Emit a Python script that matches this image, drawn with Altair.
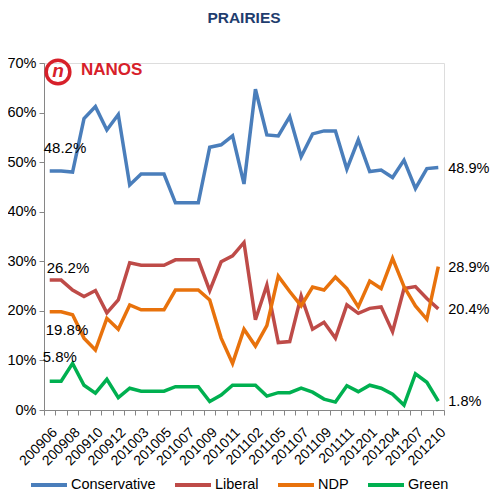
import altair as alt
import pandas as pd

months = ["200906", "200907", "200908", "200909", "200910", "200911", "200912", "201001",
          "201003", "201004", "201005", "201006", "201007", "201008", "201009", "201010",
          "201011", "201101", "201102", "201103", "201105", "201106", "201107", "201108",
          "201109", "201110", "201111", "201112", "201201", "201202", "201204", "201205",
          "201207", "201208", "201210"]
labeled_months = months[::2]

conservative = [48.2, 48.2, 48.0, 58.8, 61.2, 56.5, 59.6, 45.4, 47.6, 47.6, 47.6, 41.8, 41.8, 41.8,
                53.0, 53.5, 55.3, 45.6, 64.7, 55.5, 55.3, 59.2, 51.1, 55.7, 56.3, 56.3, 48.6, 54.5,
                48.1, 48.4, 46.9, 50.4, 44.7, 48.7, 48.9]
liberal = [26.2, 26.2, 24.2, 22.9, 24.1, 19.6, 22.2, 29.7, 29.2, 29.2, 29.2, 30.3, 30.3, 30.3,
           24.1, 29.9, 31.1, 33.8, 18.2, 25.2, 13.6, 13.8, 23.0, 16.3, 17.7, 14.5, 21.2, 19.5,
           20.5, 20.8, 15.8, 24.5, 24.9, 22.5, 20.4]
ndp = [19.8, 19.8, 19.2, 14.5, 12.1, 18.5, 16.3, 21.2, 20.2, 20.2, 20.2, 24.2, 24.2, 24.2,
       22.2, 14.5, 9.4, 16.3, 12.9, 17.0, 27.0, 23.9, 21.0, 24.8, 24.2, 26.8, 24.5, 20.8,
       26.0, 24.5, 30.6, 24.9, 21.0, 18.3, 28.9]
green = [5.8, 5.8, 9.4, 5.0, 3.4, 6.2, 2.5, 4.4, 3.8, 3.8, 3.8, 4.7, 4.7, 4.7,
         1.7, 3.0, 5.0, 5.0, 5.0, 2.8, 3.5, 3.5, 4.4, 3.6, 2.2, 1.6, 4.9, 3.7,
         5.0, 4.4, 3.2, 1.0, 7.3, 5.6, 1.8]

parties = ["Conservative", "Liberal", "NDP", "Green"]
series = [conservative, liberal, ndp, green]
colors = ["#4A7EBB", "#BE4B48", "#E8720C", "#00B050"]

rows = []
for name, vals in zip(parties, series):
    for m, v in zip(months, vals):
        rows.append({"Month": m, "Party": name, "Share": v})
df = pd.DataFrame(rows)

FONT = "Liberation Sans"
GRAY = "#868686"

label_list = ",".join("'" + m + "'" for m in labeled_months)
x_enc = alt.X(
    "Month:N", sort=months, bandPosition=0.5,
    scale=alt.Scale(type="band", paddingInner=0, paddingOuter=0),
    axis=alt.Axis(title=None, labelAngle=-45, labelOverlap=False, tickBand="extent",
                  labelExpr="indexof([" + label_list + "], datum.value) >= 0 ? datum.label : ''",
                  labelFontSize=14, labelColor="#000000", domainColor=GRAY, tickColor=GRAY,
                  tickSize=5, labelPadding=10, grid=False))
y_enc = alt.Y(
    "Share:Q", scale=alt.Scale(domain=[0, 70]),
    axis=alt.Axis(title=None, values=[0, 10, 20, 30, 40, 50, 60, 70],
                  labelExpr="datum.value + '%'", grid=False, domainColor=GRAY,
                  tickColor=GRAY, tickSize=5, labelFontSize=14.5, labelPadding=3,
                  labelColor="#000000"))
color_enc = alt.Color(
    "Party:N", sort=parties, scale=alt.Scale(domain=parties, range=colors),
    legend=alt.Legend(title=None, orient="none", legendX=-15, legendY=402,
                      direction="horizontal", symbolType="stroke", symbolSize=1296,
                      symbolStrokeWidth=4, labelFontSize=14.5, labelFont=FONT,
                      labelColor="#000000", columnPadding=11, labelOffset=2))

lines = alt.Chart(df).mark_line(strokeWidth=3.5).encode(x=x_enc, y=y_enc, color=color_enc)

layers = [lines]

left_off = {"Conservative": (-6, -23), "Liberal": (-3, -12), "NDP": (-4, 18), "Green": (-7, -24)}
for name, vals, col in zip(parties, series, colors):
    first = pd.DataFrame({"Month": [months[0]], "Share": [vals[0]]})
    last = pd.DataFrame({"Month": [months[-1]], "Share": [vals[-1]]})
    dx, dy = left_off[name]
    layers.append(
        alt.Chart(first).transform_calculate(lbl="format(datum.Share, '.1f') + '%'")
        .mark_text(align="left", baseline="middle", dx=dx, dy=dy, fontSize=15, font=FONT,
                   color="#000000")
        .encode(x=alt.X("Month:N", sort=months, bandPosition=0.5), y="Share:Q", text="lbl:N"))
    layers.append(
        alt.Chart(last).transform_calculate(lbl="format(datum.Share, '.1f') + '%'")
        .mark_text(align="left", baseline="middle", dx=10, dy=1, fontSize=14.5, font=FONT,
                   color="#000000")
        .encode(x=alt.X("Month:N", sort=months, bandPosition=0.5), y="Share:Q", text="lbl:N"))

one = pd.DataFrame({"k": [0]})
logo_circle = alt.Chart(one).mark_point(shape="circle", filled=False, size=560, strokeWidth=3.5,
                                        color="#D7202A", opacity=1).encode(
    x=alt.value(14), y=alt.value(9))
logo_n = alt.Chart(one).mark_text(text="n", fontSize=19, fontWeight="bold", fontStyle="italic",
                                  font=FONT, color="#D7202A", baseline="middle").encode(
    x=alt.value(14), y=alt.value(8))
logo_text = alt.Chart(one).mark_text(text="NANOS", fontSize=17, fontWeight="bold",
                                     font="Liberation Sans Narrow, " + FONT, color="#D7202A",
                                     align="left", baseline="middle").encode(
    x=alt.value(37), y=alt.value(7))
layers += [logo_circle, logo_n, logo_text]

chart = alt.layer(*layers).properties(
    width=400, height=347,
    title=alt.Title("PRAIRIES", fontSize=15.5, fontWeight="bold", color="#1F3D6E",
                    font=FONT, anchor="middle", offset=27),
    padding={"left": 36, "top": 55, "right": 47, "bottom": 82},
    autosize=alt.AutoSizeParams(type="none"),
).configure_view(stroke=None).configure(font=FONT)

chart.save("out.html", embed_options={"renderer": "svg", "actions": False})
